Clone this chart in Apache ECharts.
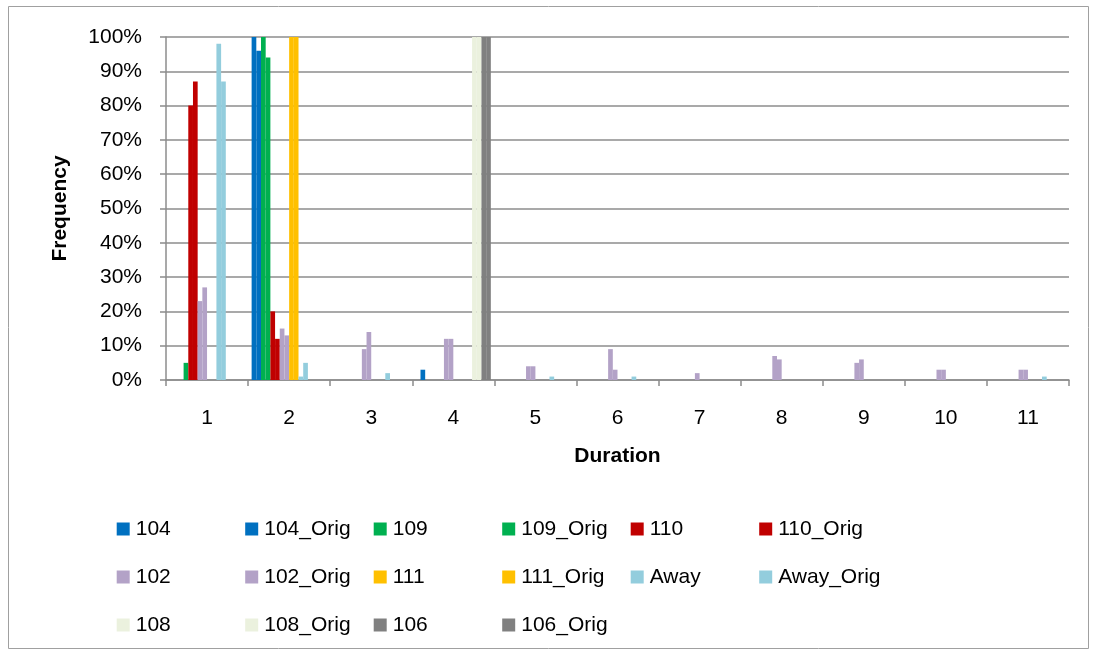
<!DOCTYPE html>
<html>
<head>
<meta charset="utf-8">
<script src="https://cdn.jsdelivr.net/npm/echarts@6/dist/echarts.min.js"></script>
<style>
html,body{margin:0;padding:0;background:#fff;}
#chart{width:1095px;height:655px;}
</style>
</head>
<body>
<div id="chart"></div>
<script>
const categories = ['1','2','3','4','5','6','7','8','9','10','11'];
const yTicks = [0,10,20,30,40,50,60,70,80,90,100];

const s104      = [0,100,0,0,0,0,0,0,0,0,0];
const s104Orig  = [0,96,0,3,0,0,0,0,0,0,0];
const s109      = [0,100,0,0,0,0,0,0,0,0,0];
const s109Orig  = [5,94,0,0,0,0,0,0,0,0,0];
const s110      = [80,20,0,0,0,0,0,0,0,0,0];
const s110Orig  = [87,12,0,0,0,0,0,0,0,0,0];
const s102      = [23,15,9,12,4,9,0,7,5,3,3];
const s102Orig  = [27,13,14,12,4,3,2,6,6,3,3];
const s111      = [0,100,0,0,0,0,0,0,0,0,0];
const s111Orig  = [0,100,0,0,0,0,0,0,0,0,0];
const sAway     = [98,1,0,0,0,0,0,0,0,0,0];
const sAwayOrig = [87,5,2,0,1,1,0,0,0,0,1];
const s108      = [0,0,0,100,0,0,0,0,0,0,0];
const s108Orig  = [0,0,0,100,0,0,0,0,0,0,0];
const s106      = [0,0,0,100,0,0,0,0,0,0,0];
const s106Orig  = [0,0,0,100,0,0,0,0,0,0,0];

const seriesNames = ['104','104_Orig','109','109_Orig','110','110_Orig','102','102_Orig','111','111_Orig','Away','Away_Orig','108','108_Orig','106','106_Orig'];
const seriesData = [s104,s104Orig,s109,s109Orig,s110,s110Orig,s102,s102Orig,s111,s111Orig,sAway,sAwayOrig,s108,s108Orig,s106,s106Orig];
const seriesColors = ['#0070C0','#0070C0','#00B050','#00B050','#C00000','#C00000','#B3A2C7','#B3A2C7','#FFC000','#FFC000','#93CDDD','#93CDDD','#EBF1DE','#EBF1DE','#808080','#808080'];

const FONT = 'Liberation Sans';
const chart = echarts.init(document.getElementById('chart'), null, {renderer:'canvas'});

const series = seriesNames.map((n,i)=>({
  name:n, type:'bar', data:seriesData[i],
  itemStyle:{color:seriesColors[i]},
  barGap:'0%', barCategoryGap:'8.6%',
  animation:false
}));

// legend: 6 columns x 3 rows, row-major order
const legends = seriesNames.map((n,i)=>{
  const col = i % 6, row = Math.floor(i/6);
  return {
    data:[n], left: 116.7 + col*128.5, top: 518 + row*48,
    itemWidth:13, itemHeight:13, icon:'rect', selectedMode:false,
    textStyle:{fontFamily:FONT, fontSize:21, color:'#000', lineHeight:22, padding:[0,0,0,1]},
    itemGap:6, padding:0
  };
});

chart.setOption({
  animation:false,
  backgroundColor:'#fff',
  graphic:[{type:'rect', shape:{x:8.5,y:6.5,width:1080,height:642}, style:{fill:'none', stroke:'#a0a0a0', lineWidth:1}, z:-1}],
  legend: legends,
  grid:{left:166, right:26, top:37, bottom:275, containLabel:false},
  xAxis:{
    type:'category', data:categories, boundaryGap:true,
    name:'Duration', nameLocation:'middle', nameGap:66,
    nameTextStyle:{fontFamily:FONT, fontSize:21, fontWeight:'bold', color:'#000'},
    axisLine:{lineStyle:{color:'#8c8c8c', width:1.5}},
    axisTick:{show:true, alignWithLabel:false, length:6, lineStyle:{color:'#8c8c8c', width:1.5}},
    axisLabel:{fontFamily:FONT, fontSize:21, color:'#000', margin:28}
  },
  yAxis:{
    type:'value', min:0, max:100, interval:10,
    name:'Frequency', nameLocation:'middle', nameGap:95, nameRotate:90,
    nameTextStyle:{fontFamily:FONT, fontSize:21, fontWeight:'bold', color:'#000'},
    axisLine:{show:true, lineStyle:{color:'#8c8c8c', width:1.5}},
    axisTick:{show:true, length:6, lineStyle:{color:'#8c8c8c', width:1.5}},
    splitLine:{show:true, lineStyle:{color:'#8c8c8c', width:1.5}},
    axisLabel:{fontFamily:FONT, fontSize:21, color:'#000', margin:24, formatter:'{value}%'}
  },
  series: series
});
</script>
</body>
</html>
